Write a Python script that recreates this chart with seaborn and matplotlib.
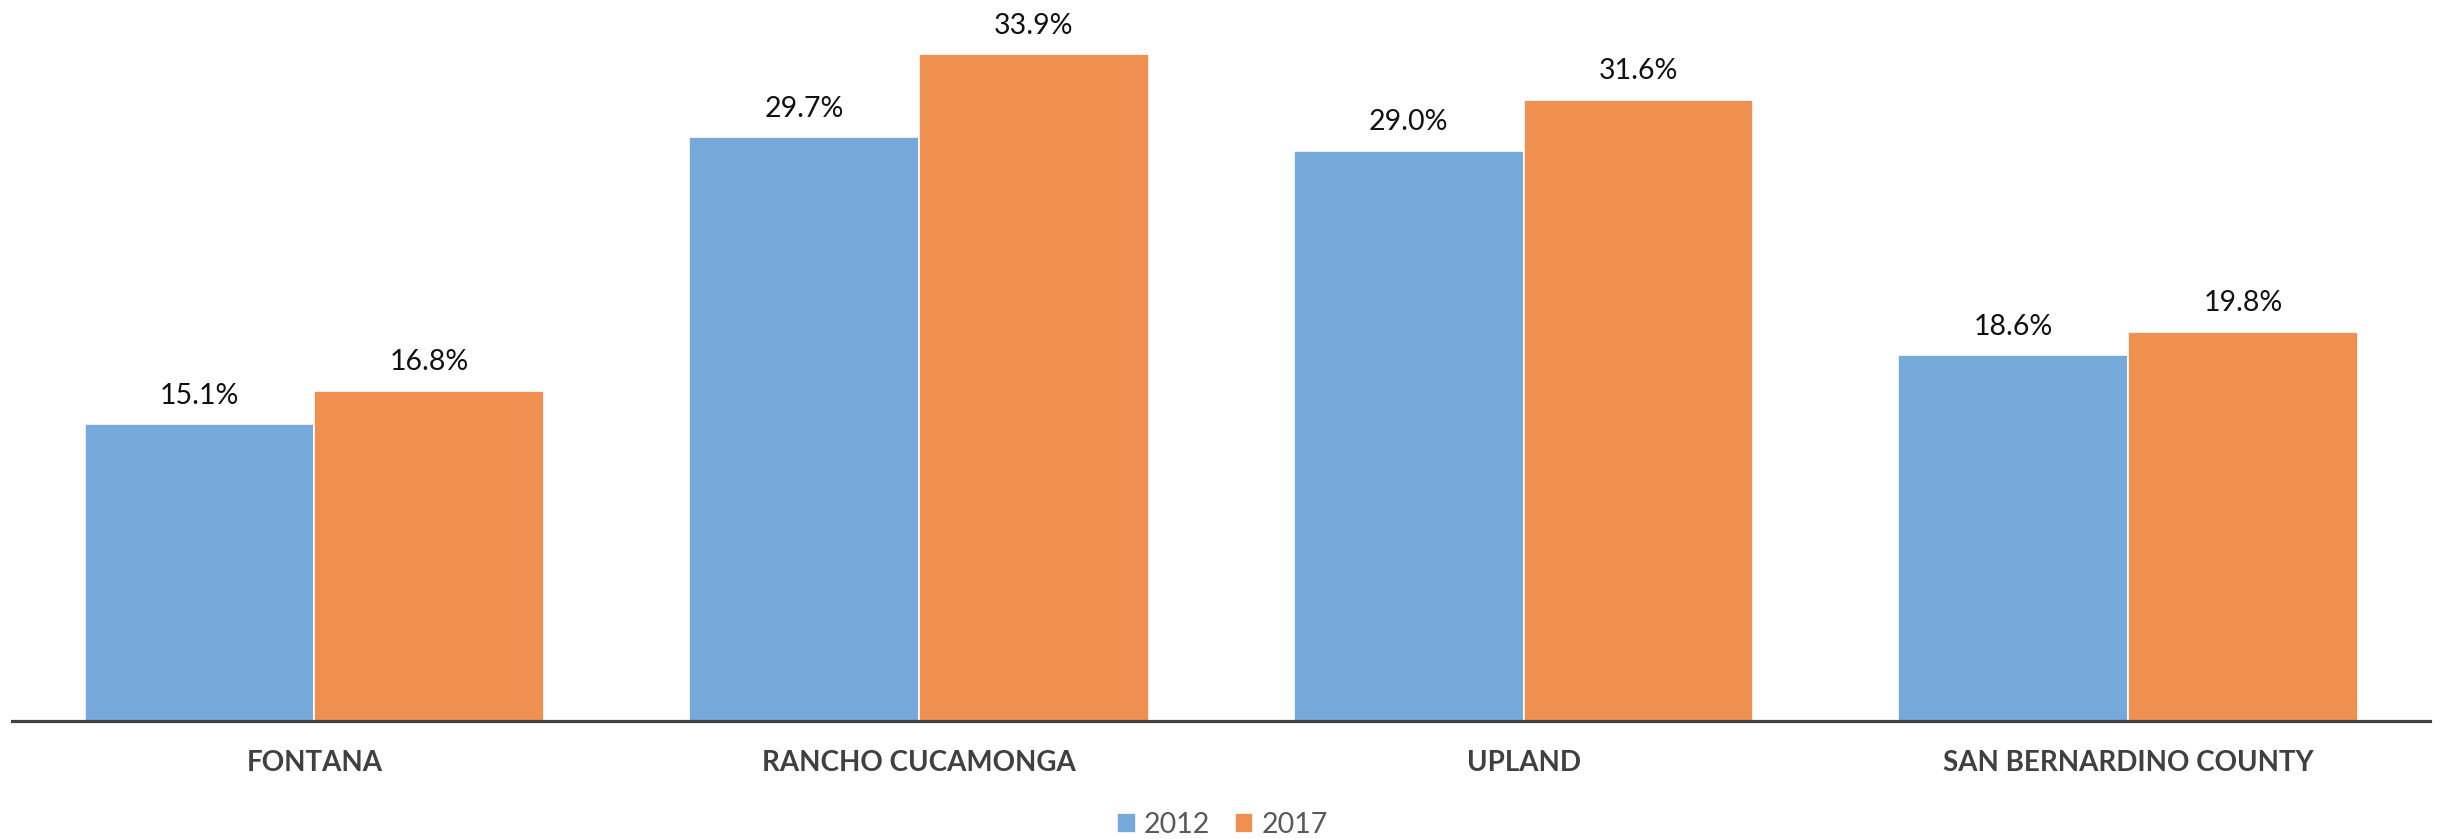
import pandas as pd
import matplotlib
matplotlib.use("Agg")
import matplotlib.pyplot as plt
import seaborn as sns

# values (percent)
places = ["FONTANA", "RANCHO CUCAMONGA", "UPLAND", "SAN BERNARDINO COUNTY"]
years = ["2012", "2017"]
values2012 = [15.1, 29.7, 29.0, 18.6]
values2017 = [16.8, 33.9, 31.6, 19.8]

df = pd.DataFrame({
    "place": places * 2,
    "year": [years[0]] * 4 + [years[1]] * 4,
    "pct": values2012 + values2017,
})

sns.set_theme(style="white")
plt.rcParams["font.family"] = ["Lato", "DejaVu Sans"]

fig = plt.figure(figsize=(24.45, 8.39), dpi=100)
ax = fig.add_axes([0.005, 0.1406, 0.989, 0.8204])

palette = {"2012": "#74A9DA", "2017": "#EF9050"}
sns.barplot(data=df, x="place", y="pct", hue="year", palette=palette,
            width=0.76, saturation=1, edgecolor="#FFFFFF", linewidth=1.2,
            ax=ax, legend=True)

for cont in ax.containers:
    ax.bar_label(cont, fmt="%.1f%%", padding=11, fontsize=20.5, color="#111111")

ax.set_xlim(-0.5, 3.5)
ax.set_ylim(0, 35)
ax.set_xlabel("")
ax.set_ylabel("")
ax.set_yticks([])
for s in ["top", "left", "right"]:
    ax.spines[s].set_visible(False)
ax.spines["bottom"].set_color("#404040")
ax.spines["bottom"].set_linewidth(2.3)
ax.tick_params(axis="x", length=0, pad=21, labelsize=20, labelcolor="#404040")
for lbl in ax.get_xticklabels():
    lbl.set_fontweight("bold")

ax.get_legend().remove()
handles, labels = ax.get_legend_handles_labels()
fig.legend(handles[:2], labels[:2], loc="center", bbox_to_anchor=(0.5, 1 - 825 / 839),
           ncol=2, frameon=False, fontsize=20.5, labelcolor="#595959",
           handlelength=0.65, handleheight=0.65, handletextpad=0.3, columnspacing=0.85)

fig.savefig("out.png", dpi=100)
